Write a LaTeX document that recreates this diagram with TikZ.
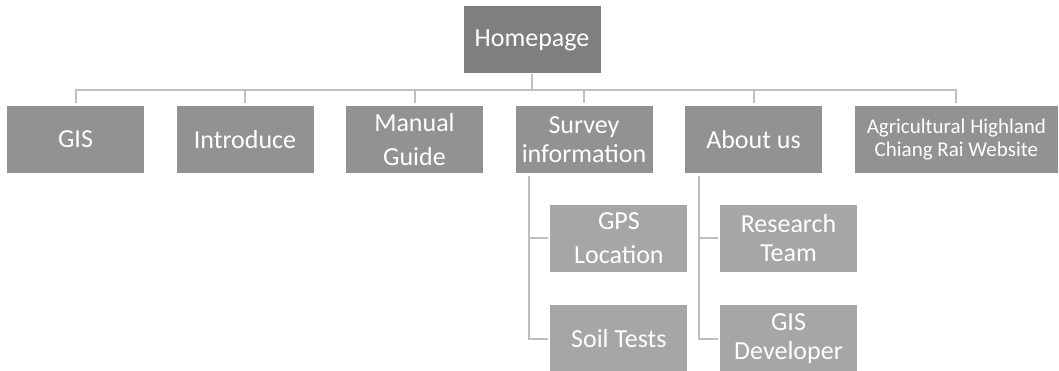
\documentclass[tikz,border=0pt]{standalone}
\usepackage{fontspec}
\setmainfont{Carlito}
\definecolor{homegray}{RGB}{127,127,127}
\definecolor{lvlgray}{RGB}{146,146,146}
\definecolor{subgray}{RGB}{166,166,166}
\definecolor{linegray}{RGB}{191,191,191}
\begin{document}
\begin{tikzpicture}[x=1pt,y=-1pt,
  box/.style={rectangle, inner sep=0pt, minimum width=137pt, minimum height=67pt,
    text=white, align=center, font=\fontsize{26}{29}\selectfont},
  widebox/.style={font=\fontsize{26}{34}\selectfont},
  homebox/.style={box, fill=homegray},
  lvlbox/.style={box, fill=lvlgray},
  subbox/.style={box, fill=subgray},
  conn/.style={draw=linegray, line width=2pt}]
\useasboundingbox (0,0) rectangle (1059,371);
\node[homebox] (home) at (532,40) {Homepage};
\node[lvlbox] (gis) at (75.5,139.5) {GIS};
\node[lvlbox] (intro) at (245,139.5) {Introduce};
\node[lvlbox, widebox] (manual) at (414.5,139.5) {Manual\\Guide};
\node[lvlbox] (survey) at (584,139.5) {Survey\\information};
\node[lvlbox] (about) at (753.5,139.5) {About us};
\node[lvlbox, minimum width=203pt, font=\fontsize{21}{23.5}\selectfont] (agri) at (956.4,139.5) {Agricultural Highland\\Chiang Rai Website};
\node[subbox, widebox] (gps) at (618.9,238.5) {GPS\\Location};
\node[subbox] (soil) at (618.9,338.5) {Soil Tests};
\node[subbox] (research) at (788.5,238.5) {Research\\Team};
\node[subbox] (gisdev) at (788.5,338.5) {GIS\\Developer};
\foreach \t in {gis,intro,manual,survey,about,agri}
  \draw[conn, shorten >=3pt] (home.south) -- ++(0,16.2) -| (\t.north);
\draw[conn, shorten <=3pt, shorten >=2pt] ([xshift=13.7pt]survey.south west) |- (gps.west);
\draw[conn, shorten <=3pt, shorten >=2pt] ([xshift=13.7pt]survey.south west) |- (soil.west);
\draw[conn, shorten <=3pt, shorten >=2pt] ([xshift=14pt]about.south west) |- (research.west);
\draw[conn, shorten <=3pt, shorten >=2pt] ([xshift=14pt]about.south west) |- (gisdev.west);
\end{tikzpicture}
\end{document}
